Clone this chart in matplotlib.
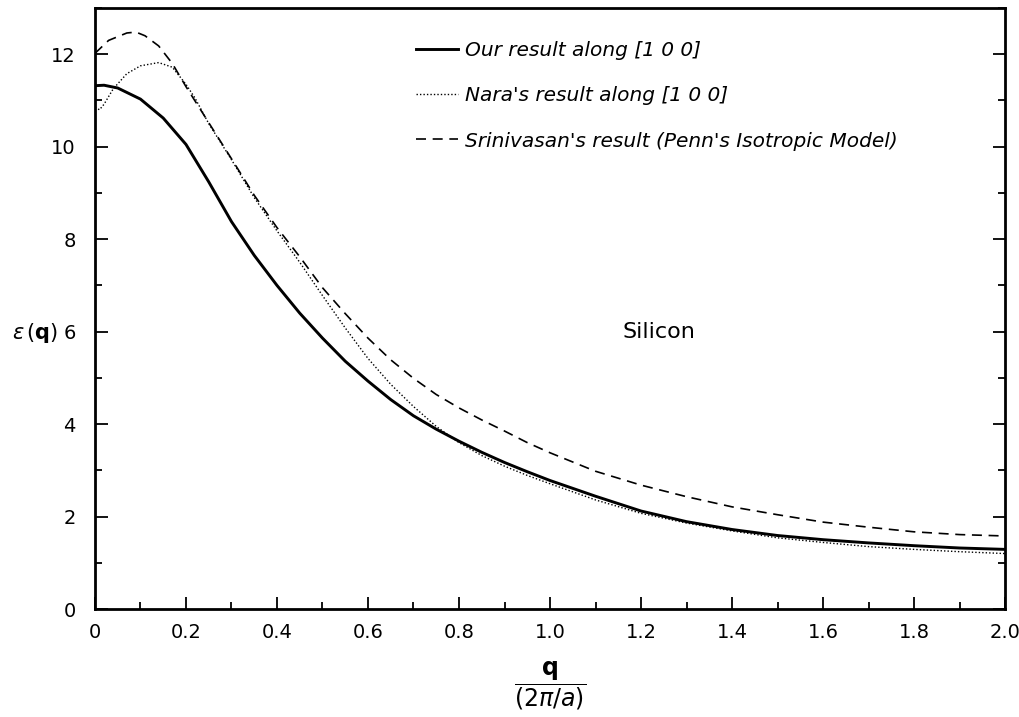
import numpy as np
import matplotlib.pyplot as plt
from matplotlib.ticker import MultipleLocator

# ----------------------------------------------------------------
# Data: epsilon(q) for silicon
# ----------------------------------------------------------------
q_ours = [0.0, 0.02, 0.05, 0.1, 0.15, 0.2, 0.25, 0.3, 0.35, 0.4,
          0.45, 0.5, 0.55, 0.6, 0.65, 0.7, 0.75, 0.8, 0.85, 0.9,
          0.95, 1.0, 1.1, 1.2, 1.3, 1.4, 1.5, 1.6, 1.7, 1.8,
          1.9, 2.0]
eps_ours = [11.32, 11.33, 11.27, 11.03, 10.62, 10.05, 9.24, 8.38, 7.65, 7.0,
            6.40, 5.86, 5.36, 4.93, 4.53, 4.18, 3.89, 3.63, 3.39, 3.17,
            2.97, 2.78, 2.44, 2.12, 1.89, 1.72, 1.59, 1.50, 1.43, 1.37,
            1.32, 1.29]

q_nara = [0.0, 0.01, 0.02, 0.04, 0.07, 0.1, 0.14, 0.17, 0.2, 0.22,
          0.25, 0.3, 0.35, 0.4, 0.45, 0.5, 0.55, 0.6, 0.65, 0.7,
          0.75, 0.8, 0.85, 0.9, 0.95, 1.0, 1.1, 1.2, 1.3, 1.4,
          1.5, 1.6, 1.7, 1.8, 1.9, 2.0]
eps_nara = [10.85, 10.80, 10.92, 11.25, 11.58, 11.75, 11.82, 11.72, 11.35, 11.05,
            10.50, 9.72, 8.90, 8.18, 7.50, 6.78, 6.08, 5.42, 4.86, 4.38,
            3.95, 3.60, 3.32, 3.09, 2.89, 2.71, 2.36, 2.07, 1.86, 1.69,
            1.54, 1.44, 1.35, 1.29, 1.24, 1.20]

q_sri = [0.0, 0.03, 0.07, 0.09, 0.11, 0.14, 0.17, 0.2, 0.25, 0.3,
         0.35, 0.4, 0.45, 0.5, 0.55, 0.6, 0.65, 0.7, 0.75, 0.8,
         0.85, 0.9, 0.95, 1.0, 1.1, 1.2, 1.3, 1.4, 1.5, 1.6,
         1.7, 1.8, 1.9, 2.0]
eps_sri = [12.02, 12.30, 12.46, 12.48, 12.40, 12.18, 11.80, 11.30, 10.52, 9.74,
           8.95, 8.25, 7.62, 6.95, 6.39, 5.86, 5.39, 4.99, 4.64, 4.35,
           4.09, 3.85, 3.60, 3.38, 2.98, 2.68, 2.43, 2.21, 2.04, 1.88,
           1.77, 1.67, 1.61, 1.58]

x_ticks = [0, 0.2, 0.4, 0.6, 0.8, 1.0, 1.2, 1.4, 1.6, 1.8, 2.0]
x_labels = ['0', '0.2', '0.4', '0.6', '0.8', '1.0', '1.2', '1.4', '1.6', '1.8', '2.0']
y_ticks = [0, 2, 4, 6, 8, 10, 12]

# ----------------------------------------------------------------
# Plot
# ----------------------------------------------------------------
plt.rcParams['font.family'] = ['DejaVu Sans']
fig = plt.figure(figsize=(10.19, 7.17), dpi=100)
ax = fig.add_axes([0.0932, 0.1506, 0.8931, 0.8382])

ax.plot(q_ours, eps_ours, '-', color='black', linewidth=2.1,
        label='Our result along [1 0 0]')
ax.plot(q_nara, eps_nara, color='black', linewidth=1.0,
        linestyle=(0, (1, 1.5)),
        label="Nara's result along [1 0 0]")
ax.plot(q_sri, eps_sri, color='black', linewidth=1.2,
        linestyle=(0, (6, 4)),
        label="Srinivasan's result (Penn's Isotropic Model)")

ax.set_xlim(0, 2.0)
ax.set_ylim(0, 13)
ax.set_xticks(x_ticks)
ax.set_xticklabels(x_labels)
ax.set_yticks(y_ticks)
ax.xaxis.set_minor_locator(MultipleLocator(0.1))
ax.yaxis.set_minor_locator(MultipleLocator(1))
ax.tick_params(which='both', direction='in', right=True, top=False,
               width=1.3, labelsize=14)
ax.tick_params(which='major', length=9)
ax.tick_params(which='minor', length=5)
ax.tick_params(axis='y', pad=14)
ax.tick_params(axis='x', pad=10)
for sp in ax.spines.values():
    sp.set_linewidth(2.0)

ax.text(1.24, 6.0, 'Silicon', ha='center', va='center', fontsize=16)

ax.text(-0.066, 0.46, r'$\epsilon\,(\mathbf{q})$', transform=ax.transAxes,
        ha='center', va='center', fontsize=15)
ax.text(0.5, -0.128, r'$\dfrac{\mathbf{q}}{(2\pi/a)}$', transform=ax.transAxes,
        ha='center', va='center', fontsize=17)

leg = ax.legend(loc='upper left', bbox_to_anchor=(0.333, 0.975),
                frameon=False, handlelength=2.1,
                handletextpad=0.35, labelspacing=1.3,
                prop={'style': 'italic', 'size': 14.5})

plt.savefig('out.png', dpi=100)
